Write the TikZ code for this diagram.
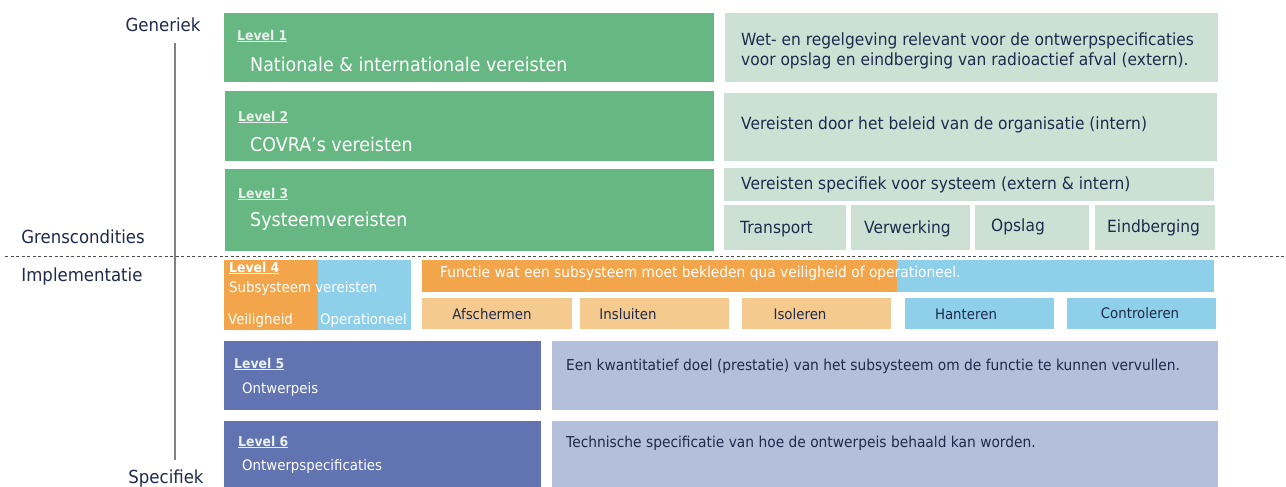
\documentclass[tikz,border=0pt]{standalone}
\usepackage{fontspec}
\setmainfont{DejaVu Sans}[FakeStretch=0.92]
\usetikzlibrary{positioning}
\definecolor{gdark}{RGB}{102,183,130}
\definecolor{glight}{RGB}{204,224,212}
\definecolor{odark}{RGB}{242,165,74}
\definecolor{olight}{RGB}{245,202,142}
\definecolor{bsky}{RGB}{142,207,234}
\definecolor{bdark}{RGB}{97,115,176}
\definecolor{blight}{RGB}{180,191,219}
\definecolor{navy}{RGB}{31,42,76}
\definecolor{lvlc}{RGB}{232,240,235}
\definecolor{axis}{RGB}{128,128,128}
\tikzset{
  box/.style={anchor=north west, inner sep=0pt, draw=white, line width=0.8pt},
  lvl/.style={anchor=west, inner sep=0pt, text=lvlc, font=\bfseries\fontsize{13.5}{15}\selectfont},
  wtxt/.style={anchor=west, inner sep=0pt, text=white, font=\fontsize{19}{22}\selectfont},
  wsm/.style={anchor=west, inner sep=0pt, text=white, font=\fontsize{14.5}{16}\selectfont},
  ntxt/.style={anchor=west, inner sep=0pt, text=navy, font=\fontsize{16.8}{20}\selectfont},
  nsm/.style={anchor=west, inner sep=0pt, text=navy, font=\fontsize{15}{17}\selectfont},
  ctr/.style={anchor=center, inner sep=0pt, text=navy, font=\fontsize{14.5}{17}\selectfont},
  side/.style={inner sep=0pt, text=navy, font=\fontsize{18}{20}\selectfont}
}
\begin{document}
\begin{tikzpicture}[x=1pt,y=-1pt]
\useasboundingbox[fill=white] (0,0) rectangle (1286,487);
% side labels and axis
\node[side] (gen) at (163,25) {Generiek};
\node[side] (gre) at (83,237) {Grenscondities};
\node[side] (imp) at (82,277) {Implementatie};
\node[side] (spe) at (166,479) {Specifiek};
\coordinate (axt) at (175,43);
\coordinate (axb) at (175,460);
\draw[axis, line width=2pt] (axt) -- (axb);
\coordinate (dl) at (5,256);
\coordinate (dr) at (1286,256);
\draw[black!70, line width=1pt, dash pattern=on 3pt off 2.5pt] (dl) -- (dr);
% Level 1-3 green
\node[box, fill=gdark, minimum width=491pt, minimum height=70pt] (l1) at (223,12) {};
\node[box, fill=gdark, minimum width=490pt, minimum height=71pt] (l2) at (224,90) {};
\node[box, fill=gdark, minimum width=490pt, minimum height=83pt] (l3) at (224,168) {};
\node[lvl] (l1a) at (237,36) {\underline{Level 1}};
\node[wtxt] (l1b) at (250,64) {Nationale \& internationale vereisten};
\node[lvl] (l2a) at (238,117) {\underline{Level 2}};
\node[wtxt] (l2b) at (250,144) {COVRA’s vereisten};
\node[lvl] (l3a) at (238,194) {\underline{Level 3}};
\node[wtxt] (l3b) at (250,221) {Systeemvereisten};
% right green
\node[box, fill=glight, minimum width=494pt, minimum height=70pt] (r1) at (724,12) {};
\node[box, fill=glight, minimum width=494pt, minimum height=69pt] (r2) at (723,92) {};
\node[box, fill=glight, minimum width=491pt, minimum height=34pt] (r3) at (723,167) {};
\node[box, fill=glight, minimum width=123pt, minimum height=46pt] (s1) at (723,204) {};
\node[box, fill=glight, minimum width=120pt, minimum height=46pt] (s2) at (850,204) {};
\node[box, fill=glight, minimum width=115pt, minimum height=46pt] (s3) at (974,204) {};
\node[box, fill=glight, minimum width=121pt, minimum height=46pt] (s4) at (1094,204) {};
\node[ntxt] (r1a) at (741,41) {Wet- en regelgeving relevant voor de ontwerpspecificaties};
\node[ntxt] (r1b) at (741,61) {voor opslag en eindberging van radioactief afval (extern).};
\node[ntxt] (r2a) at (741,125) {Vereisten door het beleid van de organisatie (intern)};
\node[ntxt] (r3a) at (741,185) {Vereisten specifiek voor systeem (extern \& intern)};
\node[ntxt] (s1t) at (740,229) {Transport};
\node[ntxt] (s2t) at (864,229) {Verwerking};
\node[ntxt] (s3t) at (991,227) {Opslag};
\node[ntxt] (s4t) at (1107,228) {Eindberging};
% Level 4
\node[box, fill=odark, draw=none, minimum width=94pt, minimum height=70pt] (l4o) at (224,260) {};
\node[box, fill=bsky, draw=none, minimum width=93pt, minimum height=70pt] (l4b) at (318,260) {};
\node[lvl, text=white] (l4a) at (229,268) {\underline{Level 4}};
\node[wsm] (l4t) at (229,288) {Subsysteem vereisten};
\node[wsm] (l4v) at (228,320) {Veiligheid};
\node[wsm] (l4op) at (320,320) {Operationeel};
% function bar
\node[box, fill=odark, draw=none, minimum width=476pt, minimum height=32pt] (fo) at (422,260) {};
\node[box, fill=bsky, draw=none, minimum width=317pt, minimum height=32pt] (fb) at (897,260) {};
\node[wsm, font=\fontsize{15}{17}\selectfont] (ft) at (440,273) {Functie wat een subsysteem moet bekleden qua veiligheid of operationeel.};
\node[box, fill=olight, minimum width=151pt, minimum height=32pt] (f1) at (421,297) {};
\node[box, fill=olight, minimum width=150pt, minimum height=32pt] (f2) at (579,297) {};
\node[box, fill=olight, minimum width=150pt, minimum height=32pt] (f3) at (741,297) {};
\node[box, fill=bsky, minimum width=150pt, minimum height=32pt] (f4) at (904,297) {};
\node[box, fill=bsky, minimum width=150pt, minimum height=32pt] (f5) at (1066,297) {};
\node[ctr] (f1t) at (492,314) {Afschermen};
\node[ctr] (f2t) at (628,314) {Insluiten};
\node[ctr] (f3t) at (800,314) {Isoleren};
\node[ctr] (f4t) at (966,314) {Hanteren};
\node[ctr] (f5t) at (1140,313) {Controleren};
% Level 5 & 6
\node[box, fill=bdark, minimum width=318pt, minimum height=70pt] (l5) at (223,340) {};
\node[box, fill=blight, minimum width=667pt, minimum height=70pt] (r5) at (551,340) {};
\node[box, fill=bdark, minimum width=318pt, minimum height=70pt] (l6) at (223,420) {};
\node[box, fill=blight, minimum width=667pt, minimum height=70pt] (r6) at (551,420) {};
\node[lvl] (l5a) at (234,364) {\underline{Level 5}};
\node[wsm] (l5b) at (242,389) {Ontwerpeis};
\node[lvl] (l6a) at (238,442) {\underline{Level 6}};
\node[wsm] (l6b) at (242,466) {Ontwerpspecificaties};
\node[nsm] (r5t) at (566,366) {Een kwantitatief doel (prestatie) van het subsysteem om de functie te kunnen vervullen.};
\node[nsm] (r6t) at (566,443) {Technische specificatie van hoe de ontwerpeis behaald kan worden.};
\end{tikzpicture}
\end{document}
